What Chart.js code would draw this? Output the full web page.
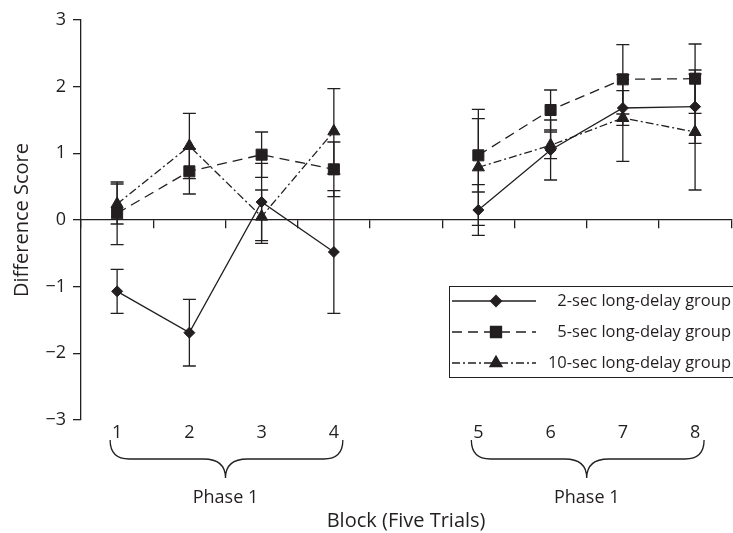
<!DOCTYPE html>
<html>
<head>
<meta charset="utf-8">
<script src="https://cdn.jsdelivr.net/npm/chart.js@4.4.1/dist/chart.umd.min.js"></script>
<style>
  html, body { margin: 0; padding: 0; background: #fff; overflow: hidden; }
  #wrap { width: 740px; height: 533px; }
</style>
</head>
<body>
<div id="wrap"><canvas id="blockChart" width="740" height="533"></canvas></div>
<script>
// blocks 1-4 and 5-8, with an empty slot between the two phases
const blocks = ['1', '2', '3', '4', '', '5', '6', '7', '8'];

const twoSec  = [-1.07, -1.69, 0.27, -0.48, null, 0.15, 1.05, 1.68, 1.70];
const fiveSec = [0.10, 0.73, 0.98, 0.76, null, 0.97, 1.65, 2.11, 2.12];
const tenSec  = [0.24, 1.11, 0.05, 1.33, null, 0.79, 1.12, 1.53, 1.32];

const twoSecErr  = [0.33, 0.50, 0.58, 0.92, null, 0.38, 0.45, 0.26, 0.55];
const fiveSecErr = [0.47, 0.34, 0.34, 0.41, null, 0.55, 0.30, 0.52, 0.52];
const tenSecErr  = [0.30, 0.49, 0.40, 0.64, null, 0.87, 0.20, 0.65, 0.87];

const seriesNames = ['2-sec long-delay group', '5-sec long-delay group', '10-sec long-delay group'];

const yMin = -3;
const yMax = 3;

// index ranges of the blocks under each brace
const phaseBlocks = [[0, 3], [5, 8]];
const phaseLabels = ['Phase 1', 'Phase 1'];

const ink = '#231f20';
const family = '"Open Sans", "Noto Sans", sans-serif';

const errorBars = {
  id: 'errorBars',
  beforeDatasetsDraw(chart) {
    const ctx = chart.ctx;
    const y = chart.scales.y;
    ctx.save();
    ctx.strokeStyle = ink;
    ctx.lineWidth = 1.3;
    chart.data.datasets.forEach((ds, i) => {
      const meta = chart.getDatasetMeta(i);
      ds.data.forEach((v, j) => {
        const e = ds.errors[j];
        if (v === null || e === null) return;
        const px = meta.data[j].x;
        const top = y.getPixelForValue(v + e);
        const bot = y.getPixelForValue(v - e);
        ctx.beginPath();
        ctx.moveTo(px, top); ctx.lineTo(px, bot);
        ctx.moveTo(px - 6.5, top); ctx.lineTo(px + 6.5, top);
        ctx.moveTo(px - 6.5, bot); ctx.lineTo(px + 6.5, bot);
        ctx.stroke();
      });
    });
    ctx.restore();
  }
};

const phaseBraces = {
  id: 'phaseBraces',
  afterDraw(chart) {
    const ctx = chart.ctx;
    const xs = chart.scales.x;
    const b = chart.chartArea.bottom;
    const top = b + 20, mid = b + 39, tip = b + 58;
    ctx.save();
    ctx.strokeStyle = ink;
    ctx.lineWidth = 1.3;
    ctx.fillStyle = ink;
    ctx.font = '18px ' + family;
    ctx.textAlign = 'center';
    ctx.textBaseline = 'middle';
    phaseBlocks.forEach(([a, z], k) => {
      const L = xs.getPixelForValue(a) - 7;
      const R = xs.getPixelForValue(z) + 9;
      const M = (xs.getPixelForValue(a + 1) + xs.getPixelForValue(a + 2)) / 2;
      ctx.beginPath();
      ctx.moveTo(L, top);
      ctx.quadraticCurveTo(L, mid, L + 19, mid);
      ctx.lineTo(M - 22, mid);
      ctx.quadraticCurveTo(M, mid, M, tip);
      ctx.quadraticCurveTo(M, mid, M + 22, mid);
      ctx.lineTo(R - 19, mid);
      ctx.quadraticCurveTo(R, mid, R, top);
      ctx.stroke();
      ctx.fillText(phaseLabels[k], M, b + 78);
    });
    ctx.restore();
  }
};

const boxLegend = {
  id: 'boxLegend',
  afterDraw(chart) {
    const ctx = chart.ctx;
    const help = Chart.helpers;
    ctx.save();
    ctx.fillStyle = '#fff';
    ctx.fillRect(449.5, 286.5, 300, 91);
    ctx.strokeStyle = ink;
    ctx.lineWidth = 1;
    ctx.strokeRect(449.5, 286.5, 300, 91);
    ctx.font = '16.5px ' + family;
    ctx.textAlign = 'right';
    ctx.textBaseline = 'middle';
    chart.data.datasets.forEach((ds, i) => {
      const ry = 301 + i * 31;
      ctx.strokeStyle = ink;
      ctx.lineWidth = 1.3;
      ctx.setLineDash(ds.borderDash || []);
      ctx.beginPath();
      ctx.moveTo(452, ry); ctx.lineTo(536, ry);
      ctx.stroke();
      ctx.setLineDash([]);
      ctx.fillStyle = ink;
      help.drawPoint(ctx, { pointStyle: ds.pointStyle, radius: ds.pointRadius, rotation: 0, borderWidth: 1 }, 496, ry);
      ctx.fillText(seriesNames[i], 731, ry);
    });
    ctx.restore();
  }
};

function lineSet(i, data, errors, style, radius, dash) {
  return {
    label: seriesNames[i],
    data: data,
    errors: errors,
    xAxisID: 'x',
    yAxisID: 'y',
    borderColor: ink,
    backgroundColor: ink,
    borderWidth: 1.3,
    borderDash: dash,
    pointStyle: style,
    pointRadius: radius,
    pointBorderWidth: 1,
    pointBackgroundColor: ink,
    pointBorderColor: ink,
    tension: 0,
    spanGaps: false
  };
}

new Chart(document.getElementById('blockChart'), {
  type: 'line',
  data: {
    labels: blocks,
    datasets: [
      lineSet(0, twoSec, twoSecErr, 'rectRot', 5.5, []),
      lineSet(1, fiveSec, fiveSecErr, 'rect', 7.8, [10, 6]),
      lineSet(2, tenSec, tenSecErr, 'triangle', 7, [8, 3, 2, 3])
    ]
  },
  options: {
    responsive: false,
    animation: false,
    events: [],
    layout: { padding: { top: 20, right: 4, bottom: 0, left: 0 } },
    plugins: { legend: { display: false }, tooltip: { enabled: false } },
    scales: {
      x: {
        type: 'category',
        position: 'bottom',
        offset: true,
        grid: { display: false, drawTicks: false },
        border: { display: false },
        ticks: { color: ink, font: { family: family, size: 18 }, padding: 2, autoSkip: false, maxRotation: 0 },
        title: { display: true, text: 'Block (Five Trials)', color: ink, font: { family: family, size: 20 }, padding: { top: 0, bottom: 0 } },
        afterFit(scale) { scale.height = 113; }
      },
      xZero: {
        axis: 'x',
        type: 'category',
        position: { y: 0 },
        offset: true,
        grid: { display: true, drawOnChartArea: false, drawTicks: true, tickLength: 8, color: ink, lineWidth: 1.3, offset: true },
        border: { display: true, color: ink, width: 1.3 },
        ticks: { display: false }
      },
      y: {
        type: 'linear',
        position: 'left',
        min: yMin,
        max: yMax,
        ticks: {
          stepSize: 1,
          color: ink,
          font: { family: family, size: 18 },
          padding: 7,
          callback: v => v < 0 ? '\u2212' + Math.abs(v) : String(v)
        },
        grid: { display: true, drawOnChartArea: false, drawTicks: true, tickLength: 8, color: ink, lineWidth: 1.3 },
        border: { display: true, color: ink, width: 1.3 },
        title: { display: true, text: 'Difference Score', color: ink, font: { family: family, size: 20 }, padding: { top: 10, bottom: 0 } },
        afterFit(scale) { scale.width = 81; }
      }
    }
  },
  plugins: [errorBars, phaseBraces, boxLegend]
});
</script>
</body>
</html>
